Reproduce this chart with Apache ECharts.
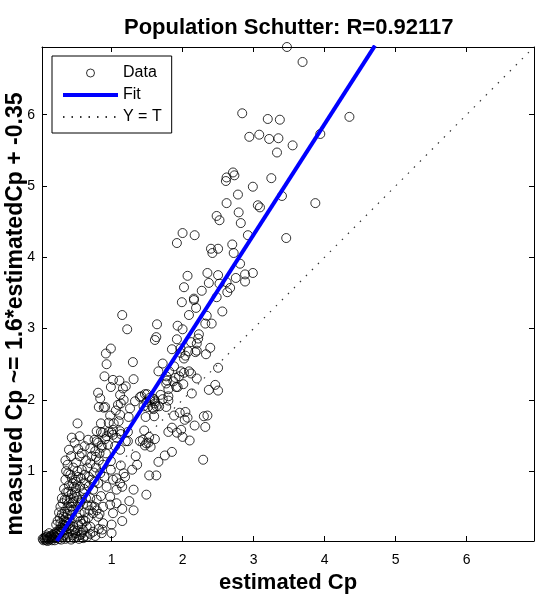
<!DOCTYPE html>
<html>
<head>
<meta charset="utf-8">
<script src="https://cdn.jsdelivr.net/npm/echarts@6/dist/echarts.min.js"></script>
<style>
html, body { margin: 0; padding: 0; background: #fff; }
#chart { width: 535px; height: 600px; }
</style>
</head>
<body>
<div id="chart"></div>
<script>
// 坐标轴范围与刻度
var axisMin = 0.02;
var axisMax = 6.95;
var tickValues = [1, 2, 3, 4, 5, 6];

// 拟合线与 Y = T 线的端点
var fitLine = [[0.23, 0.02], [4.71, 6.97]];
var identityLine = [[0.02, 0.02], [6.95, 6.95]];

// 散点 [estimated, measured]
var dataPoints = [
    [3.47, 6.95], [3.69, 6.74], [2.84, 6.02], [3.20, 5.94], [3.37, 5.93], [4.35, 5.97], [2.94, 5.69], [3.08, 5.72],
    [3.22, 5.66], [3.35, 5.67], [3.55, 5.57], [3.94, 5.73], [3.33, 5.47], [2.71, 5.19], [2.62, 5.12], [2.61, 5.07],
    [2.73, 5.15], [3.25, 5.11], [2.99, 4.99], [2.78, 4.88], [3.40, 4.86], [2.62, 4.76], [3.06, 4.73], [3.09, 4.70],
    [3.87, 4.76],
    [2.48, 4.58], [2.52, 4.52], [2.79, 4.63], [2.82, 4.48], [2.92, 4.31], [3.46, 4.27], [2.00, 4.34], [1.92, 4.20],
    [2.17, 4.31], [2.40, 4.12], [2.42, 4.06], [2.50, 4.12], [2.70, 4.18], [2.72, 4.06], [2.81, 3.91], [2.07, 3.74],
    [2.02, 3.58], [2.35, 3.78], [2.37, 3.64], [2.50, 3.75], [2.27, 3.53], [2.16, 3.42], [2.62, 3.65], [2.67, 3.57],
    [2.63, 3.51], [2.52, 3.63], [2.75, 3.71], [2.88, 3.66], [2.99, 3.78], [2.88, 3.76],
    [1.99, 3.37], [2.16, 3.40], [2.19, 3.29], [2.09, 3.19], [2.48, 3.44], [2.56, 3.24], [2.34, 3.18], [2.41, 3.07],
    [2.32, 3.07], [1.93, 3.04], [2.00, 2.99], [1.64, 3.06], [1.63, 2.88], [1.61, 2.84], [1.92, 2.85], [2.23, 2.92],
    [2.22, 2.86], [2.12, 2.81], [2.20, 2.79], [2.39, 2.73], [1.85, 2.71], [1.97, 2.72], [1.15, 3.19], [1.22, 2.99],
    [0.99, 2.72], [0.92, 2.65], [0.93, 2.50], [0.90, 2.33], [1.30, 2.53], [1.02, 2.28], [1.11, 2.27], [1.31, 2.29],
    [1.20, 2.19], [1.16, 2.16], [0.81, 2.10], [0.84, 2.02], [0.82, 1.90], [1.12, 2.07], [1.13, 1.95], [1.09, 1.93],
    [1.06, 1.85], [0.91, 1.90], [1.33, 1.98], [1.42, 2.05], [1.50, 2.08], [1.54, 2.00], [1.51, 1.90], [1.60, 2.01],
    [1.61, 1.95], [1.58, 1.89],
    [0.98, 1.78], [1.12, 1.79], [1.10, 1.70], [1.24, 1.76], [1.03, 1.67], [0.96, 1.68], [0.85, 1.67], [0.52, 1.67],
    [0.85, 1.55], [0.79, 1.42], [0.76, 1.44], [0.91, 1.45], [0.96, 1.55], [1.02, 1.58], [1.02, 1.51], [1.13, 1.52],
    [1.23, 1.55], [1.20, 1.42], [1.12, 1.30], [0.86, 1.36],
    [1.69, 2.07], [1.67, 1.91], [1.80, 2.05], [1.66, 2.40], [1.77, 2.33], [1.90, 2.31], [1.88, 2.47], [1.72, 2.51],
    [1.81, 2.40], [1.98, 2.40], [2.02, 2.38], [2.09, 2.40], [2.12, 2.37], [2.20, 2.30],
    [1.93, 2.18], [2.01, 2.22], [2.13, 2.09], [1.96, 1.82], [2.04, 1.83], [2.03, 1.72], [2.17, 1.64], [2.30, 1.77],
    [2.32, 1.62], [2.35, 1.78], [2.46, 2.21], [2.50, 2.13], [2.37, 2.14], [2.50, 2.45],
    [2.04, 2.62], [2.08, 2.68], [2.18, 2.67], [2.20, 2.69], [2.33, 2.64], [1.97, 2.66], [2.02, 2.58], [1.95, 2.33],
    [1.78, 2.27], [1.77, 2.23], [1.87, 2.26], [1.91, 2.18], [1.80, 2.15],
    [1.40, 2.04], [1.47, 2.08], [1.54, 2.03], [1.61, 1.98], [1.58, 2.02], [1.49, 1.97], [1.72, 2.01], [1.80, 1.99],
    [1.77, 1.90], [1.63, 1.91], [1.59, 1.87], [1.45, 1.91],
    [1.48, 1.76], [1.60, 1.77], [1.88, 1.78], [2.07, 1.75],
    [1.46, 1.57], [1.53, 1.48], [1.61, 1.45], [1.44, 1.44], [1.52, 1.40], [1.47, 1.36], [1.55, 1.34],
    [1.80, 1.55], [1.85, 1.61], [1.92, 1.54], [1.98, 1.58], [2.00, 1.48], [2.10, 1.43],
    [1.85, 1.27], [1.75, 1.22], [1.66, 1.13], [2.29, 1.16],
    [1.53, 0.94], [1.63, 0.94], [1.49, 0.67],
    [1.34, 1.21], [1.36, 1.09], [1.29, 1.02], [1.19, 0.92], [1.15, 0.78], [1.31, 0.74], [1.25, 0.58], [1.15, 0.47],
    [1.31, 0.45], [1.15, 0.30],
    [0.99, 2.18], [0.89, 1.89], [1.26, 1.88], [1.17, 2.00],
    [0.43, 1.21], [0.55, 1.21], [0.53, 1.31], [0.70, 1.32], [0.72, 1.21], [0.70, 1.11], [0.82, 1.15], [0.88, 1.09],
    [0.99, 1.14], [0.99, 1.02], [1.13, 1.08], [1.17, 0.97], [1.23, 1.42], [1.40, 1.42], [1.49, 1.39],
    [0.38, 1.09], [0.39, 0.97], [0.44, 0.90], [0.45, 0.83], [0.39, 0.71], [0.37, 0.60], [0.46, 0.57], [0.38, 0.50],
    [0.46, 0.46], [0.44, 0.39], [0.55, 0.41], [0.60, 0.32], [0.53, 0.25], [0.65, 0.22], [0.48, 0.17], [0.41, 0.32],
    [0.34, 0.43], [0.32, 0.36], [0.51, 0.64], [0.55, 0.78], [0.63, 0.83], [0.60, 0.69], [0.70, 0.62], [0.74, 0.74],
    [0.81, 0.83], [0.79, 0.60], [0.93, 0.78], [1.02, 0.88], [1.07, 0.90], [1.12, 0.83], [1.07, 0.74], [0.98, 0.64],
    [0.88, 0.50], [0.98, 0.53], [1.07, 0.55], [1.02, 0.41], [1.00, 0.25], [0.88, 0.27], [0.81, 0.36], [0.74, 0.41],
    [0.70, 0.22], [0.60, 0.17], [0.74, 0.15], [0.86, 0.13], [1.00, 0.13], [0.57, 0.11], [0.87, 0.18],
    [0.79, 1.56], [0.88, 1.54], [0.93, 1.49], [1.00, 1.54], [1.07, 1.47], [1.12, 1.56], [0.81, 1.40], [0.86, 1.33],
    [0.95, 1.37], [1.05, 1.35], [0.77, 1.28], [0.67, 1.44], [0.55, 1.49], [0.48, 1.40], [0.44, 1.47],
    [0.58, 1.02], [0.62, 0.95], [0.66, 1.05], [0.57, 0.90], [0.68, 0.92], [0.75, 0.98], [0.64, 1.15], [0.52, 1.00],
    [0.49, 0.88], [0.58, 0.60], [0.66, 0.52], [0.62, 0.42], [0.53, 0.50], [0.85, 0.65], [0.90, 0.92], [0.78, 1.05],
    [0.84, 0.97],
    [0.28, 0.27], [0.33, 0.31], [0.36, 0.35], [0.38, 0.40], [0.41, 0.45], [0.43, 0.50], [0.45, 0.55], [0.47, 0.62],
    [0.49, 0.70], [0.50, 0.76], [0.42, 0.62], [0.40, 0.55], [0.44, 0.68], [0.47, 0.78], [0.50, 0.85], [0.53, 0.92],
    [0.40, 0.80], [0.42, 0.95], [0.46, 1.05], [0.50, 1.12], [0.36, 0.70], [0.34, 0.60], [0.52, 0.35], [0.56, 0.30],
    [0.58, 0.26], [0.63, 0.30], [0.67, 0.35], [0.69, 0.45], [0.72, 0.52], [0.76, 0.50], [0.79, 0.45], [0.83, 0.40],
    [0.64, 0.62], [0.56, 0.56], [0.61, 0.75], [0.68, 0.79], [0.72, 0.88], [0.76, 0.85],
    [0.22, 0.06], [0.29, 0.04], [0.33, 0.10], [0.37, 0.07], [0.43, 0.04], [0.47, 0.06], [0.51, 0.08], [0.54, 0.05],
    [0.60, 0.06], [0.66, 0.08], [0.70, 0.12], [0.77, 0.09], [0.82, 0.19],
    [0.58, 1.25], [0.62, 1.35], [0.78, 1.20], [0.83, 1.25], [0.92, 1.25], [0.35, 1.15], [0.40, 1.30],
    [0.04, 0.03], [0.06, 0.04], [0.08, 0.03], [0.10, 0.05], [0.12, 0.04], [0.05, 0.06], [0.07, 0.07], [0.09, 0.08],
    [0.11, 0.06], [0.13, 0.07], [0.15, 0.05], [0.14, 0.09], [0.16, 0.08], [0.18, 0.06], [0.17, 0.11], [0.19, 0.10],
    [0.21, 0.08], [0.20, 0.13], [0.22, 0.12], [0.24, 0.10], [0.23, 0.15], [0.25, 0.14], [0.27, 0.12], [0.26, 0.18],
    [0.28, 0.17], [0.30, 0.15], [0.29, 0.21], [0.31, 0.20], [0.33, 0.18], [0.32, 0.25], [0.34, 0.24], [0.36, 0.22],
    [0.35, 0.29], [0.37, 0.28], [0.39, 0.26], [0.40, 0.20], [0.42, 0.24], [0.44, 0.18], [0.46, 0.22], [0.49, 0.13],
    [0.52, 0.16], [0.55, 0.10], [0.58, 0.14], [0.62, 0.09], [0.45, 0.10], [0.38, 0.11], [0.31, 0.08], [0.26, 0.05],
    [0.20, 0.03], [0.35, 0.05], [0.41, 0.07], [0.03, 0.05], [0.08, 0.10], [0.12, 0.13], [0.10, 0.02], [0.16, 0.03],
    [0.27, 0.34], [0.30, 0.40], [0.24, 0.30], [0.22, 0.25], [0.28, 0.50], [0.30, 0.62], [0.33, 0.75], [0.35, 0.88],
    [0.36, 1.00], [0.31, 0.55], [0.26, 0.42]
];

var fontFamily = '"Liberation Sans", Arial, Helvetica, sans-serif';
var yLabelText = 'measured Cp ~= 1.6*estimatedCp + -0.35';

var chart = echarts.init(document.getElementById('chart'));

function frameAxis(pos, showLabel) {
    return {
        type: 'value',
        position: pos,
        min: axisMin,
        max: axisMax,
        axisLine: { show: true, onZero: false, lineStyle: { color: '#000', width: 1 } },
        axisTick: { show: true, inside: true, length: 5, customValues: tickValues, lineStyle: { color: '#000' } },
        axisLabel: { show: showLabel, customValues: tickValues, fontSize: 14, color: '#000', margin: 12 },
        splitLine: { show: false }
    };
}

var xBottom = frameAxis('bottom', true);
xBottom.name = 'estimated Cp';
xBottom.nameLocation = 'middle';
xBottom.nameGap = 31;
xBottom.nameTextStyle = { fontSize: 22, fontWeight: 'bold', color: '#000' };

var yLeft = frameAxis('left', true);
yLeft.axisLabel.margin = 7;

var option = {
    animation: false,
    backgroundColor: '#fff',
    textStyle: { fontFamily: fontFamily },
    title: {
        text: 'Population Schutter: R=0.92117',
        left: 119,
        top: 12,
        textStyle: { fontSize: 22, fontWeight: 'bold', color: '#000' }
    },
    grid: { left: 42, top: 47, width: 492, height: 494, containLabel: false, outerBoundsMode: 'none' },
    // 纵轴标题单独放置
    graphic: [{
        type: 'text',
        x: 16,
        y: 314,
        rotation: Math.PI / 2,
        style: {
            text: yLabelText,
            font: 'bold 23px ' + fontFamily,
            fill: '#000',
            align: 'center',
            verticalAlign: 'middle'
        }
    }],
    legend: {
        orient: 'vertical',
        left: 52,
        top: 56,
        data: [
            { name: 'Data', itemStyle: { borderWidth: 1 } },
            { name: 'Fit', itemStyle: { opacity: 0 }, lineStyle: { width: 4 } },
            { name: 'Y = T', itemStyle: { opacity: 0 } }
        ],
        itemWidth: 55,
        itemHeight: 8,
        itemGap: 6,
        padding: [9, 10, 8, 9],
        borderColor: '#000',
        borderWidth: 1,
        borderRadius: 0,
        backgroundColor: '#fff',
        textStyle: { fontSize: 16, color: '#000' }
    },
    xAxis: [xBottom, frameAxis('top', false)],
    yAxis: [yLeft, frameAxis('right', false)],
    series: [{
        name: 'Data',
        type: 'scatter',
        symbol: 'circle',
        symbolSize: 9,
        itemStyle: { color: 'rgba(0,0,0,0)', borderColor: '#000', borderWidth: 1 },
        data: dataPoints
    }, {
        name: 'Fit',
        type: 'line',
        symbol: 'none',
        itemStyle: { color: '#0000ff', opacity: 0 },
        lineStyle: { color: '#0000ff', width: 4, opacity: 1 },
        data: fitLine
    }, {
        name: 'Y = T',
        type: 'line',
        symbol: 'none',
        itemStyle: { color: '#333', opacity: 0 },
        lineStyle: { color: '#333', width: 1.2, type: [1.5, 7], opacity: 1 },
        data: identityLine
    }]
};

chart.setOption(option);
</script>
</body>
</html>
